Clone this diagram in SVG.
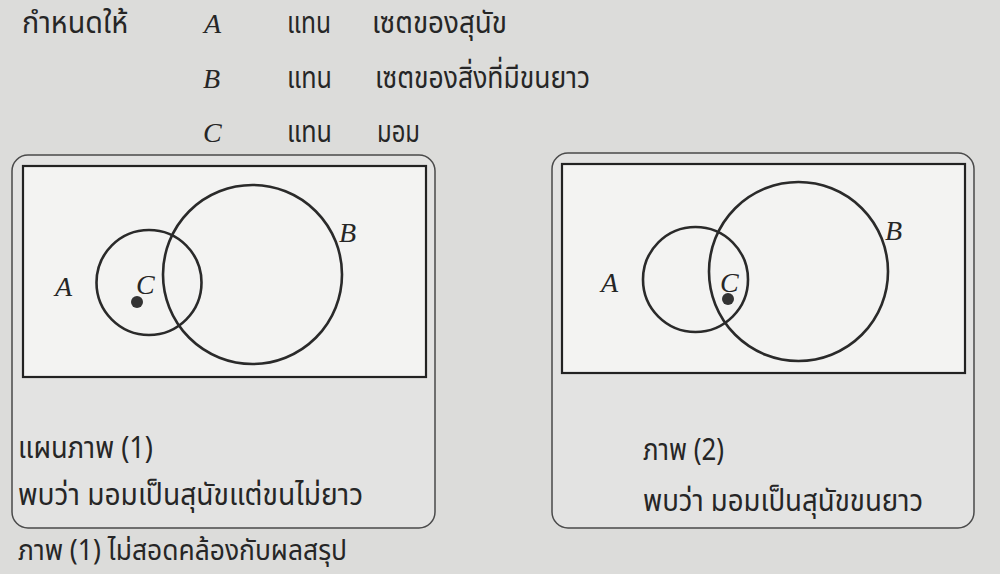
<svg xmlns="http://www.w3.org/2000/svg" width="1000" height="574" viewBox="0 0 1000 574">
<style>
.th{font-family:"Noto Sans Thai","Noto Serif Thai","Liberation Serif",serif;font-size:31px;fill:#262626}
.it{font-family:"Liberation Serif",serif;font-style:italic;font-size:28px;fill:#262626}
.panel{fill:#e3e3e2;stroke:#4a4a4a;stroke-width:1.5}
.box{fill:#f3f3f2;stroke:#222;stroke-width:2.2}
.set{fill:none;stroke:#2a2a2a;stroke-width:2.6}
.dot{fill:#333}
</style>
<rect x="0" y="0" width="1000" height="574" fill="#dcdcda"/>
<g id="legend">
<text class="th" x="22" y="33" textLength="106" lengthAdjust="spacingAndGlyphs">กำหนดให้</text>
<text class="it" x="204" y="33">A</text>
<text class="th" x="287" y="33" textLength="44" lengthAdjust="spacingAndGlyphs">แทน</text>
<text class="th" x="372" y="33" textLength="135" lengthAdjust="spacingAndGlyphs">เซตของสุนัข</text>
<text class="it" x="203" y="88">B</text>
<text class="th" x="287" y="88" textLength="45" lengthAdjust="spacingAndGlyphs">แทน</text>
<text class="th" x="375" y="88" textLength="215" lengthAdjust="spacingAndGlyphs">เซตของสิ่งที่มีขนยาว</text>
<text class="it" x="203" y="142">C</text>
<text class="th" x="287" y="142" textLength="45" lengthAdjust="spacingAndGlyphs">แทน</text>
<text class="th" x="377" y="142" textLength="43" lengthAdjust="spacingAndGlyphs">มอม</text>
</g>
<g id="panel1">
<rect class="panel" x="12" y="155" width="423" height="373" rx="16"/>
<rect class="box" x="23" y="166" width="403" height="211"/>
<circle class="set" cx="149" cy="282.5" r="52.5"/>
<circle class="set" cx="252.5" cy="274.5" r="89.5"/>
<circle class="dot" cx="137" cy="302" r="6"/>
<text class="it" x="55" y="296">A</text>
<text class="it" x="136" y="294">C</text>
<text class="it" x="339" y="242">B</text>
<text class="th" x="18" y="458" textLength="135" lengthAdjust="spacingAndGlyphs">แผนภาพ (1)</text>
<text class="th" x="18" y="505" textLength="345" lengthAdjust="spacingAndGlyphs">พบว่า มอมเป็นสุนัขแต่ขนไม่ยาว</text>
</g>
<g id="panel2">
<rect class="panel" x="552" y="153" width="422" height="375" rx="16"/>
<rect class="box" x="562" y="164" width="403" height="209"/>
<circle class="set" cx="695.5" cy="279.5" r="52.5"/>
<circle class="set" cx="798.5" cy="271.5" r="89.5"/>
<circle class="dot" cx="728" cy="299" r="6"/>
<text class="it" x="601" y="292">A</text>
<text class="it" x="720" y="292">C</text>
<text class="it" x="885" y="240">B</text>
<text class="th" x="643" y="460" textLength="81" lengthAdjust="spacingAndGlyphs">ภาพ (2)</text>
<text class="th" x="643" y="511" textLength="280" lengthAdjust="spacingAndGlyphs">พบว่า มอมเป็นสุนัขขนยาว</text>
</g>
<g id="conclusion">
<text class="th" x="18" y="560" style="font-size:29px" textLength="329" lengthAdjust="spacingAndGlyphs">ภาพ (1) ไม่สอดคล้องกับผลสรุป</text>
</g>
<g id="connectors"/>
</svg>
